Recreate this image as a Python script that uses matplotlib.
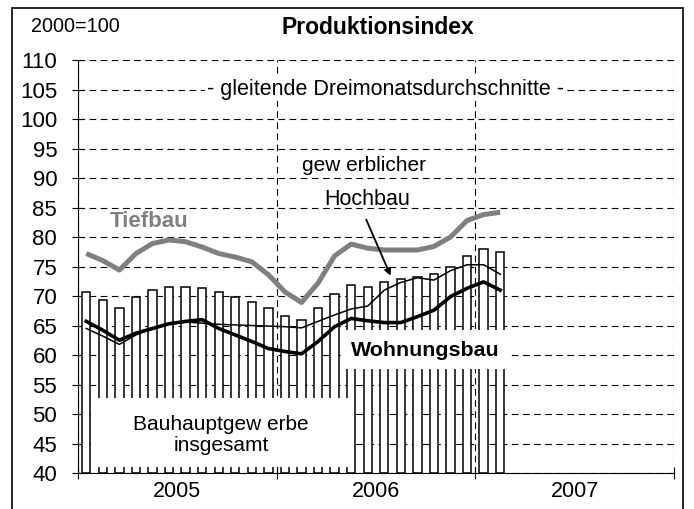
import matplotlib
matplotlib.use("Agg")
import matplotlib.pyplot as plt
from matplotlib.patches import Rectangle
import numpy as np

plt.rcParams['font.family'] = ['Liberation Sans', 'DejaVu Sans']

# Monatswerte Jan 2005 - Feb 2007 (gleitende Dreimonatsdurchschnitte), 2000=100
bauhaupt = [70.7, 69.3, 67.9, 69.9, 71.0, 71.6, 71.6, 71.3, 70.7, 69.9, 69.0, 67.9,
            66.6, 65.9, 67.9, 70.3, 71.9, 71.6, 72.3, 72.8, 73.3, 73.7, 75.0, 76.7,
            78.0, 77.4]
tiefbau = [77.2, 76.0, 74.4, 77.2, 78.9, 79.5, 79.2, 78.3, 77.2, 76.6, 75.8, 73.6,
           70.7, 68.9, 72.2, 76.8, 78.8, 78.1, 77.8, 77.8, 77.8, 78.4, 80.0, 82.8,
           83.8, 84.2]
wohnungsbau = [65.7, 64.2, 62.5, 63.7, 64.5, 65.3, 65.7, 66.0, 64.5, 63.4, 62.3, 61.1,
               60.6, 60.2, 62.3, 64.8, 66.2, 65.8, 65.5, 65.5, 66.5, 67.6, 69.9, 71.3,
               72.4, 71.0]
hochbau = [64.5, 63.2, 61.8, 63.4, 64.5, 65.2, 65.6, 65.4, 65.2, 65.1, 65.0, 64.9,
           64.8, 64.6, 65.7, 66.8, 67.8, 68.3, 71.0, 72.3, 73.1, 72.7, 74.3, 75.3,
           75.3, 73.7]
years = ['2005', '2006', '2007']

x = np.arange(len(bauhaupt)) + 0.5

fig = plt.figure(figsize=(6.94, 5.09), dpi=100)
ax = fig.add_axes([0.1124, 0.0707, 0.8588, 0.8114])

# Rahmen um die ganze Grafik
fig.patches.append(Rectangle((0.0173, -0.05), 0.9667, 1.034, transform=fig.transFigure,
                             fill=False, edgecolor='black', linewidth=1.2))

ax.bar(x, np.array(bauhaupt) - 40, bottom=40, width=0.5, color='white',
       edgecolor='black', linewidth=1.1, zorder=2)

# weisse Textfelder ueber den Saeulen
ax.add_patch(Rectangle((0.79, 41.0), 15.5, 11.7, facecolor='white', edgecolor='none', zorder=3))
ax.add_patch(Rectangle((16.05, 57.6), 10.0, 6.6, facecolor='white', edgecolor='none', zorder=3))

ax.plot(x, tiefbau, color='#808080', linewidth=3.6, solid_capstyle='butt', zorder=4)
ax.plot(x, hochbau, color='black', linewidth=1.1, zorder=4)
ax.plot(x, wohnungsbau, color='black', linewidth=2.6, zorder=5)

ax.set_xlim(0, 36)
ax.set_ylim(40, 110)
ax.set_yticks(np.arange(40, 111, 5))
ax.set_xticks([0, 12, 24, 36])
ax.set_xticklabels([])
ax.set_xticks([6, 18, 30], minor=True)
ax.set_xticklabels(years, minor=True)
ax.tick_params(axis='x', which='major', direction='inout', length=8, width=0.8)
ax.tick_params(axis='x', which='minor', length=0, pad=6, labelsize=15.5)
ax.tick_params(axis='y', direction='inout', length=9, width=0.8, labelsize=16, pad=10.5)

ax.grid(True, axis='y', linestyle=(0, (6, 4)), color='black', linewidth=0.8, zorder=1)
ax.grid(True, axis='x', which='major', linestyle=(0, (6, 4)), color='black', linewidth=0.8, zorder=1)
ax.set_axisbelow(True)
for s in ['top', 'right']:
    ax.spines[s].set_visible(False)
ax.spines['left'].set_linewidth(0.8)
ax.spines['bottom'].set_linewidth(0.8)

ax.text(18.55, 105, '- gleitende Dreimonatsdurchschnitte -', ha='center', va='center',
        fontsize=15.5, zorder=6,
        bbox=dict(facecolor='white', edgecolor='none', pad=1))
ax.text(17.27, 92.1, 'gew erblicher', ha='center', va='center', fontsize=15, zorder=6)
ax.text(17.46, 86.4, 'Hochbau', ha='center', va='center', fontsize=15.5, zorder=6)
ax.annotate('', xy=(18.95, 73.0), xytext=(17.34, 83.4),
            arrowprops=dict(arrowstyle='-|>', color='black', lw=1.3, mutation_scale=10),
            zorder=6)
ax.text(4.3, 82.6, 'Tiefbau', ha='center', va='center', fontsize=16, fontweight='bold',
        color='#808080', zorder=6)
ax.text(21.0, 60.8, 'Wohnungsbau', ha='center', va='center', fontsize=15.4,
        fontweight='bold', zorder=6)
ax.text(8.64, 46.4, 'Bauhauptgew erbe\ninsgesamt', ha='center', va='center',
        fontsize=15, linespacing=1.15, zorder=6)

fig.text(0.545, 0.946, 'Produktionsindex', ha='center', va='center', fontsize=16.5,
         fontweight='bold')
fig.text(0.044, 0.948, '2000=100', ha='left', va='center', fontsize=14.3)

fig.savefig('out.png', dpi=100)
